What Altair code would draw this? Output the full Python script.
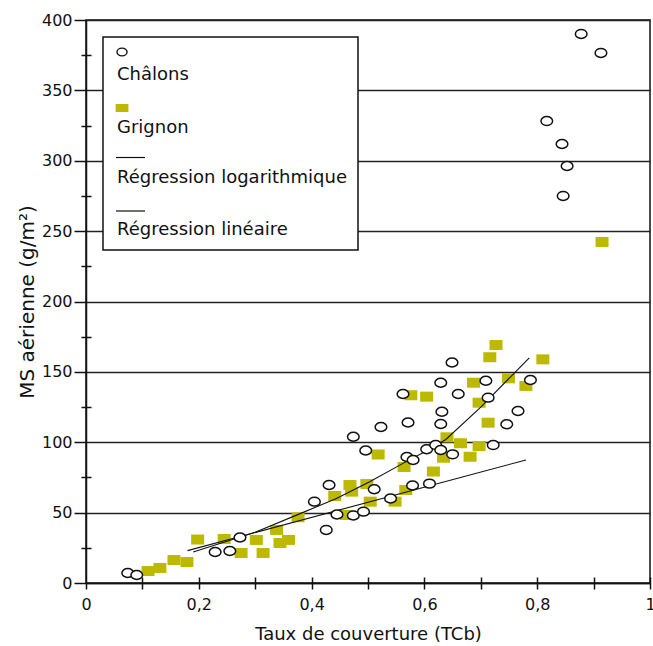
import altair as alt
import pandas as pd

# ---- data ----
chalons_x = [0.074, 0.090, 0.229, 0.255, 0.273, 0.405, 0.426, 0.431, 0.445, 0.474,
             0.492, 0.474, 0.496, 0.511, 0.523, 0.540, 0.562, 0.571, 0.569, 0.580,
             0.579, 0.609, 0.604, 0.620, 0.629, 0.629, 0.631, 0.629, 0.649, 0.650,
             0.660, 0.709, 0.713, 0.722, 0.746, 0.766, 0.788, 0.878, 0.913, 0.817,
             0.844, 0.853, 0.846]
chalons_y = [7.1, 5.7, 22.0, 22.7, 32.3, 57.8, 37.7, 69.6, 48.7, 48.0,
             50.7, 103.9, 94.1, 66.6, 110.8, 60.0, 134.3, 114.0, 89.5, 87.4,
             69.3, 70.6, 95.0, 98.0, 94.5, 113.0, 121.7, 142.3, 156.7, 91.4,
             134.3, 143.7, 131.7, 98.0, 112.8, 122.2, 144.2, 390.1, 376.6, 328.2,
             311.9, 296.3, 275.0]

grignon_x = [0.110, 0.131, 0.156, 0.179, 0.198, 0.245, 0.275, 0.302, 0.314, 0.338,
             0.344, 0.359, 0.376, 0.441, 0.462, 0.468, 0.471, 0.498, 0.504, 0.518,
             0.548, 0.567, 0.564, 0.576, 0.604, 0.616, 0.634, 0.640, 0.664, 0.681,
             0.687, 0.697, 0.697, 0.713, 0.716, 0.727, 0.749, 0.780, 0.810, 0.915]
grignon_y = [8.5, 10.7, 16.3, 14.9, 30.9, 31.3, 21.3, 30.6, 21.3, 37.7,
             28.4, 30.6, 46.7, 61.8, 48.3, 69.6, 64.9, 70.3, 57.8, 91.3,
             57.8, 66.1, 82.4, 133.4, 132.4, 79.2, 89.0, 103.5, 99.3, 89.7,
             142.3, 128.1, 97.3, 113.9, 160.4, 169.1, 145.4, 140.0, 158.9, 242.3]

log_x = [0.19, 0.30, 0.384, 0.444, 0.503, 0.562, 0.60, 0.638, 0.70, 0.786]
log_y = [22.0, 36.0, 50.0, 60.0, 72.0, 85.0, 93.0, 102.0, 125.0, 160.0]

lin_x = [0.18, 0.78]
lin_y = [23.0, 87.4]

x_ticks = [i / 10 for i in range(11)]
x_minor = [i / 10 for i in range(1, 11)]
y_ticks = list(range(0, 401, 50))
y_minor = list(range(25, 400, 50))

legend_labels = ["Châlons", "Grignon", "Régression logarithmique", "Régression linéaire"]

FONT = "DejaVu Sans"
INK = "#111111"
OLIVE = "#BDB900"
SQUARE = "M-1.3,-1H1.3V1H-1.3Z"
ELLIPSE = "M1.3,0A1.3,1,0,1,1,-1.3,0A1.3,1,0,1,1,1.3,0Z"
LEG_SQUARE = "M-1.6,-1H1.6V1H-1.6Z"

xs = alt.Scale(domain=[0, 1], nice=False, zero=False)
ys = alt.Scale(domain=[0, 400], nice=False)

df_c = pd.DataFrame({"x": chalons_x, "y": chalons_y})
df_g = pd.DataFrame({"x": grignon_x, "y": grignon_y})
df_log = pd.DataFrame({"x": log_x, "y": log_y})
df_lin = pd.DataFrame({"x": lin_x, "y": lin_y})

label_expr = ("round(datum.value*10) % 2 == 0 ? (datum.value == 0 ? '0' : "
              "(datum.value == 1 ? '1' : replace(format(datum.value, '.1f'), '.', ','))) : ''")

main_x_axis = alt.Axis(
    orient="bottom", values=x_ticks, labelExpr=label_expr, tickSize=6, labelPadding=7,
    grid=False, domainColor=INK, domainWidth=1.5, tickColor=INK, tickWidth=1.5,
    labelFont=FONT, labelFontSize=16, labelColor=INK, labelFlush=False, labelOverlap=False,
    titleFont=FONT, titleFontSize=18,
    titleFontWeight="normal", titleColor=INK, titleY=51, titleBaseline="middle")

main_y_axis = alt.Axis(
    orient="left", values=y_ticks, tickSize=12, labelPadding=2,
    grid=True, gridColor="#222222", gridWidth=1.5,
    domainColor=INK, domainWidth=1.5, tickColor=INK, tickWidth=1.5,
    labelFont=FONT, labelFontSize=16, labelColor=INK, labelFlush=False, labelOverlap=False,
    titleFont=FONT, titleFontSize=20,
    titleFontWeight="normal", titleColor=INK, titleX=-59, titleY=281.5,
    titleBaseline="middle", titleAlign="center")

minor_x_axis = alt.Axis(orient="bottom", values=x_minor, offset=-6, tickSize=6,
                        domain=False, labels=False, grid=False, tickColor=INK, tickWidth=1.5)
minor_y_axis = alt.Axis(orient="left", values=y_minor, offset=-5, tickSize=10,
                        domain=False, labels=False, grid=False, tickColor=INK, tickWidth=1.5)

grignon = alt.Chart(df_g).mark_point(shape=SQUARE, filled=True, fill=OLIVE, size=100,
                                     strokeWidth=0, opacity=1).encode(
    x=alt.X("x:Q", scale=xs, axis=main_x_axis, title="Taux de couverture (TCb)"),
    y=alt.Y("y:Q", scale=ys, axis=main_y_axis, title="MS aérienne (g/m²)"))

log_line = alt.Chart(df_log).mark_line(color=INK, strokeWidth=1.1).encode(
    x=alt.X("x:Q", scale=xs, axis=None), y=alt.Y("y:Q", scale=ys, axis=None))
lin_line = alt.Chart(df_lin).mark_line(color=INK, strokeWidth=1.1).encode(
    x=alt.X("x:Q", scale=xs, axis=None), y=alt.Y("y:Q", scale=ys, axis=None))

chalons = alt.Chart(df_c).mark_point(shape=ELLIPSE, filled=False, fill="white",
                                     fillOpacity=1, stroke=INK, strokeWidth=1.5,
                                     size=80, opacity=1).encode(
    x=alt.X("x:Q", scale=xs, axis=minor_x_axis, title=None),
    y=alt.Y("y:Q", scale=ys, axis=minor_y_axis, title=None))

one = pd.DataFrame({"k": [0]})
legend_box = alt.Chart(one).mark_rect(fill="white", stroke=INK, strokeWidth=1.5).encode(
    x=alt.value(17), x2=alt.value(272), y=alt.value(17), y2=alt.value(230))

leg_circle = alt.Chart(one).mark_point(shape=ELLIPSE, filled=False, fill="white",
                                       stroke=INK, strokeWidth=1.4, size=60, opacity=1).encode(
    x=alt.value(36), y=alt.value(32))
leg_square = alt.Chart(one).mark_point(shape=LEG_SQUARE, filled=True, fill=OLIVE,
                                       strokeWidth=0, size=64, opacity=1).encode(
    x=alt.value(36), y=alt.value(88))
leg_rule1 = alt.Chart(one).mark_rule(color=INK, strokeWidth=1.2).encode(
    x=alt.value(30), x2=alt.value(59), y=alt.value(137.5))
leg_rule2 = alt.Chart(one).mark_rule(color=INK, strokeWidth=1.2).encode(
    x=alt.value(30), x2=alt.value(59), y=alt.value(191))

text_y = [60, 113, 163, 215]
leg_texts = []
for lab, ty in zip(legend_labels, text_y):
    leg_texts.append(
        alt.Chart(pd.DataFrame({"label": [lab]})).mark_text(
            align="left", baseline="alphabetic", font=FONT, fontSize=18, color=INK
        ).encode(x=alt.value(31), y=alt.value(ty), text="label:N"))

chart = alt.layer(
    grignon, log_line, lin_line, chalons, legend_box, leg_circle, leg_square,
    leg_rule1, leg_rule2, *leg_texts
).resolve_axis(x="independent", y="independent").properties(
    width=564, height=563,
    padding={"left": 86, "top": 20, "right": 3, "bottom": 63},
    autosize=alt.AutoSizeParams(type="none"),
    background="white",
).configure_view(stroke=INK, strokeWidth=1.5)

chart.save("out.html", embed_options={"renderer": "svg", "actions": False})
